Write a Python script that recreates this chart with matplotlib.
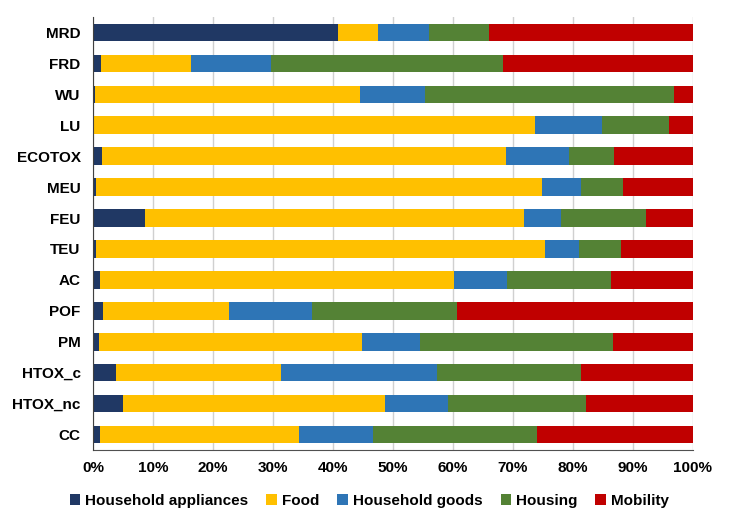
import numpy as np
import matplotlib
matplotlib.use('Agg')
from matplotlib import pyplot as plt

plt.rcParams['font.family'] = ['Liberation Sans', 'DejaVu Sans']

categories = ['MRD', 'FRD', 'WU', 'LU', 'ECOTOX', 'MEU', 'FEU', 'TEU',
              'AC', 'POF', 'PM', 'HTOX_c', 'HTOX_nc', 'CC']

# shares in % per category
appliances = [40.8, 1.4, 0.3, 0.15, 1.5, 0.5, 8.6, 0.5, 1.2, 1.7, 1.0, 3.8, 5.0, 1.2]
food       = [6.7, 15.0, 44.2, 73.55, 67.4, 74.4, 63.2, 74.9, 59.0, 20.9, 43.9, 27.5, 43.6, 33.1]
goods      = [8.5, 13.3, 10.9, 11.1, 10.5, 6.5, 6.2, 5.6, 8.8, 13.9, 9.6, 26.1, 10.5, 12.4]
housing    = [10.0, 38.7, 41.5, 11.2, 7.4, 6.9, 14.2, 7.0, 17.4, 24.2, 32.1, 24.0, 23.0, 27.3]
mobility   = [34.0, 31.6, 3.1, 4.0, 13.2, 11.7, 7.8, 12.0, 13.6, 39.3, 13.4, 18.6, 17.9, 26.0]

series = ['Household appliances', 'Food', 'Household goods', 'Housing', 'Mobility']
colors = ['#203864', '#FFC000', '#2E75B6', '#548235', '#C00000']

fig = plt.figure(figsize=(7.31, 5.24), dpi=100)
ax = fig.add_axes([93/731, 1-450/524, 600/731, 433/524])

y = np.arange(len(categories))[::-1]
left = np.zeros(len(categories))
for name, vals, c in zip(series, [appliances, food, goods, housing, mobility], colors):
    vals = np.array(vals)
    ax.barh(y, vals, left=left, height=0.57, color=c, label=name, zorder=3)
    left += vals

ax.set_xlim(0, 100)
ax.set_ylim(-0.5, len(categories) - 0.5)
ax.set_xticks(np.arange(0, 101, 10))
ax.set_xticklabels([f'{v}%' for v in range(0, 101, 10)], fontsize=11, fontweight='bold')
ax.set_yticks(y)
ax.set_yticklabels(categories, fontsize=11, fontweight='bold')
ax.tick_params(axis='both', length=0, pad=8)
ax.tick_params(axis='y', pad=9)
ax.grid(axis='x', color='#d0d0d0', linewidth=1, zorder=0)
for s in ['top', 'right']:
    ax.spines[s].set_visible(False)
ax.spines['left'].set_color('#404040')
ax.spines['bottom'].set_color('#505050')
ax.spines['left'].set_zorder(4)

fig.legend(loc='center', bbox_to_anchor=(0.505, 0.044), ncol=5, frameon=False,
           prop={'weight': 'bold', 'size': 11}, handlelength=0.7, handleheight=0.7,
           handletextpad=0.3, columnspacing=1.2)

fig.savefig('out.png', dpi=100)
